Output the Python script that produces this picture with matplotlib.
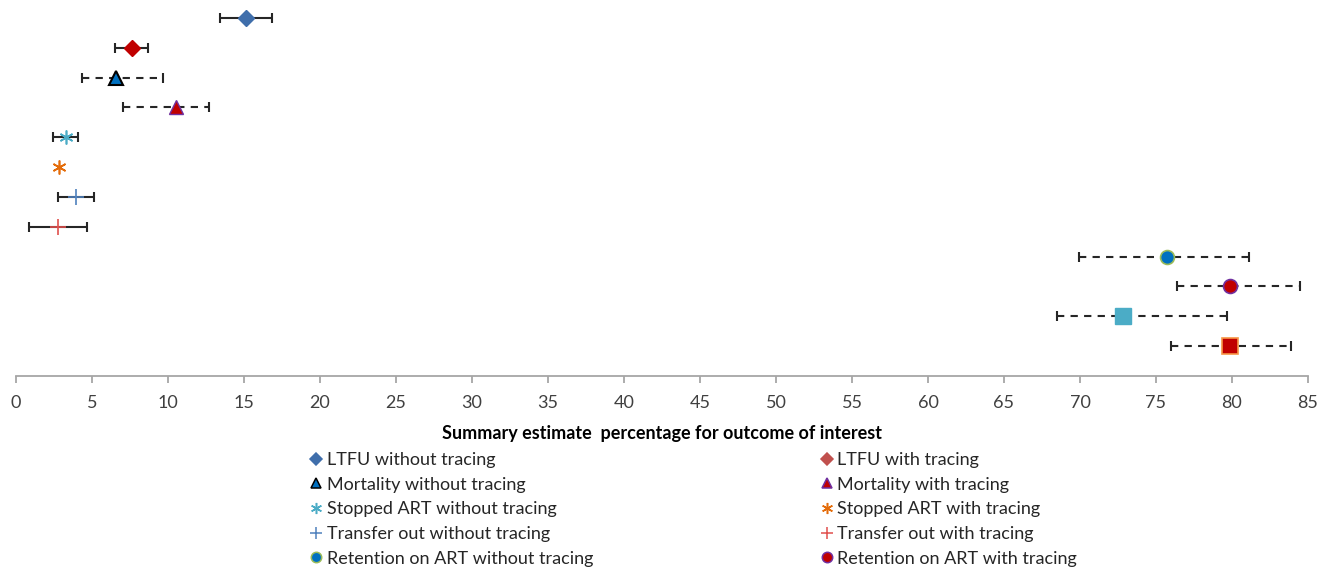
import matplotlib
matplotlib.use("Agg")
import matplotlib.pyplot as plt
from matplotlib.lines import Line2D

plt.rcParams['font.family'] = ['Lato', 'DejaVu Sans']

# Data (top row to bottom row)
labels = ["LTFU without tracing", "LTFU with tracing",
          "Mortality without tracing", "Mortality with tracing",
          "Stopped ART without tracing", "Stopped ART with tracing",
          "Transfer out without tracing", "Transfer out with tracing",
          "Retention on ART without tracing", "Retention on ART with tracing",
          "Retention (square) without tracing", "Retention (square) with tracing"]
estimates = [15.1, 7.6, 6.6, 10.55, 3.27, 2.85, 3.95, 2.74, 75.7, 79.9, 72.85, 79.9]
lower = [13.4, 6.5, 4.34, 7.04, 2.45, 2.85, 2.74, 0.88, 69.95, 76.4, 68.5, 75.97]
upper = [16.84, 8.7, 9.65, 12.72, 4.06, 2.85, 5.15, 4.65, 81.1, 84.5, 79.7, 83.9]
dashed = [False, False, True, True, False, False, False, False, True, True, True, True]
has_ci = [True, True, True, True, True, False, True, True, True, True, True, True]

markers = ['D', 'D', '^', '^', (6, 2, 0), (6, 2, 0), '+', '+', 'o', 'o', 's', 's']
faces = ['#3F6EAB', '#C00000', '#0070C0', '#C00000', '#4BACC6', '#E46C0A',
         '#4F81BD', '#E0504D', '#0070C0', '#C00000', '#4BACC6', '#C00000']
edges = ['#3F6EAB', '#C00000', '#000000', '#7030A0', '#4BACC6', '#E46C0A',
         '#4F81BD', '#E0504D', '#9BBB59', '#7030A0', '#4BACC6', '#F79646']
msizes = [8.5, 8.5, 10, 10, 10, 10, 11, 11, 10, 10, 11, 11]
mews = [1, 1, 1.5, 1, 1.2, 1.2, 1.2, 1.2, 1.2, 1.2, 1, 1.2]

xticks = list(range(0, 90, 5))

fig = plt.figure(figsize=(13.26, 5.69), dpi=100)
ax = fig.add_axes([16/1326, 1-376/569, (1308-16)/1326, 376/569])

n = len(estimates)
for i in range(n):
    y = n - i
    if has_ci[i]:
        ls = (0, (3.5, 3.0)) if dashed[i] else '-'
        ax.plot([lower[i], upper[i]], [y, y], color='#262626', lw=1.5,
                linestyle=ls, zorder=1, solid_capstyle='butt')
        for xv in (lower[i], upper[i]):
            ax.plot([xv], [y], marker='|', ms=7, mew=1.5, color='#262626', zorder=1)
    ax.plot([estimates[i]], [y], marker=markers[i], ms=msizes[i],
            markerfacecolor=faces[i], markeredgecolor=edges[i],
            mew=mews[i], color=faces[i], linestyle='none', zorder=3)

ax.set_xlim(0, 85)
ax.set_ylim(0, 12.6)
ax.set_xticks(xticks)
ax.set_yticks([])
for s in ['top', 'right', 'left']:
    ax.spines[s].set_visible(False)
ax.spines['bottom'].set_color('#A6A6A6')
ax.spines['bottom'].set_linewidth(1.3)
ax.tick_params(axis='x', colors='#A6A6A6', labelcolor='#404040',
               labelsize=13, length=5, width=1.3, pad=9)
ax.set_xlabel("Summary estimate  percentage for outcome of interest",
              fontsize=13, fontweight='bold', color='#000000', labelpad=9.5)

# Legend
leg_faces = ['#3F6EAB', '#0070C0', '#4BACC6', '#4F81BD', '#0070C0',
             '#C0504D', '#C00000', '#E46C0A', '#E0504D', '#C00000']
leg_edges = ['#3F6EAB', '#000000', '#4BACC6', '#4F81BD', '#9BBB59',
             '#C0504D', '#7030A0', '#E46C0A', '#E0504D', '#7030A0']
leg_markers = ['D', '^', (6, 2, 0), '+', 'o', 'D', '^', (6, 2, 0), '+', 'o']
leg_sizes = [6, 7.5, 8, 9, 7.5, 6, 7.5, 8, 9, 7.5]
leg_labels = [labels[0], labels[2], labels[4], labels[6], labels[8],
              labels[1], labels[3], labels[5], labels[7], labels[9]]
handles = [Line2D([], [], linestyle='none', marker=m, ms=s,
                  markerfacecolor=f, markeredgecolor=e, mew=1.1, color=f)
           for m, f, e, s in zip(leg_markers, leg_faces, leg_edges, leg_sizes)]
fig.legend(handles, leg_labels, ncol=2, loc='upper left',
           bbox_to_anchor=(311/1326, 1-452/569), frameon=False,
           fontsize=13, handlelength=0.6, handletextpad=0.3,
           columnspacing=12.6, labelspacing=0.48, borderaxespad=0,
           borderpad=0, labelcolor='#262626')

fig.savefig('out.png', dpi=100)
